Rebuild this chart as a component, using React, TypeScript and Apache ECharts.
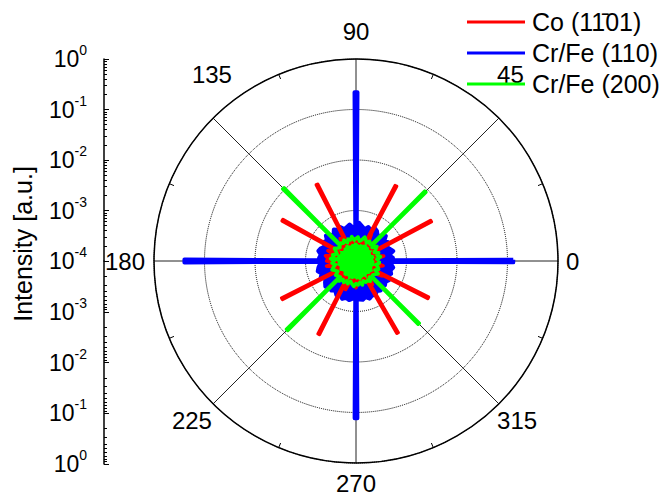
import React, { useEffect, useRef } from 'react';
import * as echarts from 'echarts';

const FONT = '"Liberation Sans", Arial, sans-serif';

const SERIES_NAMES = ['Co (11\u030401)', 'Cr/Fe (110)', 'Cr/Fe (200)'];
const ANGLE_TICKS = [0, 45, 90, 135, 180, 225, 270, 315];

// sampled angle grid (degrees)
const NOISE_ANGLES = [
  0, 5, 10, 15, 20, 25, 30, 35, 40, 45, 50, 55,
  60, 65, 70, 75, 80, 85, 90, 95, 100, 105, 110, 115,
  120, 125, 130, 135, 140, 145, 150, 155, 160, 165, 170, 175,
  180, 185, 190, 195, 200, 205, 210, 215, 220, 225, 230, 235,
  240, 245, 250, 255, 260, 265, 270, 275, 280, 285, 290, 295,
  300, 305, 310, 315, 320, 325, 330, 335, 340, 345, 350, 355,
];

// background intensity of each series on that grid
const CO_NOISE = [
  2.6e-4, 2.4e-4, 3.6e-4, 2.5e-4, 2.7e-4, 2.3e-4, 2.6e-4, 2.8e-4, 2.4e-4, 3.8e-4, 2.5e-4, 2.6e-4,
  4.0e-4, 2.5e-4, 2.4e-4, 2.7e-4, 2.3e-4, 2.6e-4, 2.5e-4, 2.8e-4, 2.4e-4, 2.6e-4, 2.3e-4, 2.7e-4,
  2.5e-4, 3.5e-4, 2.4e-4, 2.6e-4, 2.3e-4, 2.7e-4, 2.5e-4, 2.4e-4, 3.9e-4, 2.6e-4, 4.1e-4, 3.6e-4,
  3.8e-4, 2.5e-4, 3.9e-4, 2.6e-4, 2.4e-4, 2.7e-4, 2.5e-4, 2.6e-4, 2.3e-4, 3.5e-4, 2.5e-4, 2.7e-4,
  2.4e-4, 2.7e-4, 4.0e-4, 2.5e-4, 2.6e-4, 2.4e-4, 3.4e-4, 2.5e-4, 2.7e-4, 2.8e-4, 2.5e-4, 2.4e-4,
  2.6e-4, 3.7e-4, 2.4e-4, 2.7e-4, 2.5e-4, 2.6e-4, 3.9e-4, 2.5e-4, 2.4e-4, 2.7e-4, 3.5e-4, 2.5e-4,
];
const CRFE110_NOISE = [
  4.9e-4, 5.4e-4, 4.6e-4, 5.8e-4, 5.1e-4, 4.7e-4, 5.5e-4, 4.8e-4, 5.9e-4, 5.0e-4, 4.6e-4, 5.3e-4,
  5.6e-4, 4.8e-4, 5.2e-4, 4.5e-4, 5.0e-4, 5.7e-4, 4.9e-4, 4.6e-4, 5.4e-4, 5.0e-4, 4.7e-4, 5.5e-4,
  5.1e-4, 5.8e-4, 4.9e-4, 5.3e-4, 6.0e-4, 5.0e-4, 5.6e-4, 4.8e-4, 5.5e-4, 5.9e-4, 5.1e-4, 5.4e-4,
  5.8e-4, 5.2e-4, 5.7e-4, 6.1e-4, 5.3e-4, 5.9e-4, 5.0e-4, 5.6e-4, 6.2e-4, 5.4e-4, 5.8e-4, 5.2e-4,
  6.0e-4, 5.5e-4, 6.3e-4, 5.7e-4, 6.1e-4, 5.6e-4, 6.4e-4, 5.8e-4, 6.0e-4, 5.5e-4, 6.2e-4, 5.7e-4,
  5.9e-4, 5.3e-4, 5.8e-4, 5.0e-4, 5.6e-4, 5.2e-4, 5.7e-4, 4.9e-4, 5.5e-4, 5.1e-4, 5.6e-4, 5.0e-4,
];
const CRFE200_NOISE = [
  2.9e-4, 2.6e-4, 3.1e-4, 2.7e-4, 3.0e-4, 2.5e-4, 2.8e-4, 3.2e-4, 2.6e-4, 2.9e-4, 2.7e-4, 3.0e-4,
  2.6e-4, 2.9e-4, 3.2e-4, 2.7e-4, 2.5e-4, 3.0e-4, 2.8e-4, 2.6e-4, 3.1e-4, 2.7e-4, 2.9e-4, 2.5e-4,
  3.0e-4, 2.7e-4, 2.9e-4, 3.3e-4, 2.6e-4, 2.8e-4, 3.1e-4, 2.7e-4, 2.5e-4, 3.0e-4, 2.8e-4, 3.2e-4,
  2.7e-4, 3.0e-4, 2.6e-4, 2.9e-4, 3.2e-4, 2.8e-4, 2.6e-4, 3.1e-4, 2.9e-4, 2.7e-4, 3.3e-4, 2.8e-4,
  3.1e-4, 2.7e-4, 3.0e-4, 2.6e-4, 2.9e-4, 3.2e-4, 2.8e-4, 3.0e-4, 2.7e-4, 3.1e-4, 2.6e-4, 2.9e-4,
  2.8e-4, 3.1e-4, 2.6e-4, 3.0e-4, 2.7e-4, 2.9e-4, 3.2e-4, 2.6e-4, 3.0e-4, 2.8e-4, 2.5e-4, 2.9e-4,
];

// diffraction peaks: angle (deg) and peak intensity
const CO_SPIKE_ANGLES = [28, 62, 117, 151, 207, 243, 300, 333];
const CO_SPIKE_PEAKS = [4.8e-3, 4.8e-3, 5.0e-3, 4.6e-3, 4.4e-3, 4.2e-3, 4.4e-3, 4.0e-3];
const CO_SPIKE_BASE = 3.0e-4;

const CRFE110_SPIKE_ANGLES = [0, 90, 180, 270];
const CRFE110_SPIKE_PEAKS = [0.13, 0.22, 0.25, 0.13];
const CRFE110_SPIKE_BASE = 5.0e-4;

const CRFE200_SPIKE_ANGLES = [45, 135, 225, 315];
const CRFE200_SPIKE_PEAKS = [8.7e-3, 1.08e-2, 8.5e-3, 5.7e-3];
const CRFE200_SPIKE_BASE = 2.8e-4;

const BASE_HALF = 1.2;
const TIP_HALF = 0.5;

function buildSeries(noise: number[], spikeAngles: number[], spikePeaks: number[], base: number) {
  const pts: [number, number][] = [];
  NOISE_ANGLES.forEach((a, i) => {
    const near = spikeAngles.some((s) => Math.abs(((a - s + 540) % 360) - 180) < 2);
    if (!near) pts.push([noise[i], a]);
  });
  spikeAngles.forEach((s, i) => {
    const p = spikePeaks[i];
    const parts: [number, number][] = [
      [base, -BASE_HALF],
      [p, -TIP_HALF],
      [p, TIP_HALF],
      [base, BASE_HALF],
    ];
    parts.forEach(([v, d]) => pts.push([v, (s + d + 360) % 360]));
  });
  pts.sort((a, b) => a[1] - b[1]);
  pts.push([pts[0][0], pts[0][1]]);
  return pts;
}

const supLabel = (v: number) => {
  const e = Math.round(Math.log10(v));
  return `{b|10}{e|${e}}`;
};

const richLabel = {
  b: { fontSize: 23, fontFamily: FONT, color: '#000', lineHeight: 32 },
  e: { fontSize: 14, fontFamily: FONT, color: '#000', lineHeight: 14, verticalAlign: 'top' },
};

// per-label padding [top, right, bottom, left] for the angle labels
const ANGLE_LABEL_PAD: Record<number, number[]> = {
  0: [0, 0, 0, 36],
  45: [0, 0, 102, 18],
  90: [0, 0, 87, 0],
  135: [0, 1, 102, 0],
  180: [0, 37, 0, 0],
  225: [48, 21, 0, 0],
  270: [73, 0, 0, 0],
  315: [48, 0, 0, 18],
};
const angleRich: Record<string, any> = {};
ANGLE_TICKS.forEach((t) => {
  angleRich['a' + t] = {
    fontSize: 24,
    fontFamily: FONT,
    color: '#000',
    lineHeight: 24,
    padding: ANGLE_LABEL_PAD[t],
  };
});

export default function App() {
  const ref = useRef<HTMLDivElement>(null);
  useEffect(() => {
    document.body.style.margin = '0';
    if (!ref.current) return;
    const chart = echarts.init(ref.current, undefined, { renderer: 'svg' });
    const mkSeries = (name: string, color: string, data: [number, number][], width: number) => ({
      name,
      type: 'line',
      coordinateSystem: 'polar',
      data,
      symbol: 'none',
      showSymbol: false,
      silent: true,
      lineStyle: { color, width, join: 'round' },
      itemStyle: { color },
      areaStyle: { color, opacity: 1 },
    });
    const yAxisCommon = {
      type: 'log',
      logBase: 10,
      min: 1e-4,
      max: 1,
      axisLine: { show: true, lineStyle: { color: '#000', width: 1.5 } },
      axisTick: { show: true, inside: true, length: 5, lineStyle: { color: '#000', width: 1 } },
      minorTick: { show: true, splitNumber: 9, length: 3, lineStyle: { color: '#000', width: 1 } },
      splitLine: { show: false },
      axisLabel: { formatter: supLabel, rich: richLabel, margin: 17 },
    };
    chart.setOption({
      animation: false,
      backgroundColor: '#fff',
      legend: {
        data: SERIES_NAMES,
        orient: 'vertical',
        left: 467,
        top: 9,
        padding: 0,
        icon: 'rect',
        itemWidth: 58,
        itemHeight: 3,
        itemGap: 5,
        textStyle: { fontSize: 25, fontFamily: FONT, color: '#000', lineHeight: 26, padding: [0, 0, 0, 2] },
        selectedMode: false,
      },
      grid: [
        { left: 104, top: 59, width: 1, height: 202 },
        { left: 104, top: 261, width: 1, height: 203 },
      ],
      xAxis: [
        { type: 'value', gridIndex: 0, show: false },
        { type: 'value', gridIndex: 1, show: false },
      ],
      yAxis: [
        { ...yAxisCommon, gridIndex: 0 },
        { ...yAxisCommon, gridIndex: 1, inverse: true, axisLabel: { ...yAxisCommon.axisLabel, showMinLabel: false } },
      ],
      polar: { center: [356, 261], radius: 202 },
      angleAxis: {
        type: 'value',
        min: 0,
        max: 360,
        interval: 45,
        startAngle: 0,
        clockwise: false,
        axisLine: { show: true, lineStyle: { color: '#000', width: 1.5 } },
        axisTick: { show: false, inside: true },
        minorTick: { show: true, splitNumber: 2, length: 5, lineStyle: { color: '#000', width: 1 } },
        splitLine: { show: true, lineStyle: { color: '#222', width: 1 } },
        axisLabel: {
          margin: -28,
          fontSize: 24,
          fontFamily: FONT,
          color: '#000',
          rich: angleRich,
          formatter: (v: number) => (ANGLE_TICKS.includes(v) ? `{a${v}|${v}}` : ''),
        },
      },
      radiusAxis: {
        type: 'log',
        logBase: 10,
        min: 1e-4,
        max: 1,
        axisLine: { show: false },
        axisTick: { show: false },
        axisLabel: { show: false },
        splitLine: { show: true, lineStyle: { color: '#000', width: 1, type: 'dotted' } },
      },
      graphic: [
        {
          type: 'text',
          x: 23,
          y: 244,
          rotation: Math.PI / 2,
          style: {
            text: 'Intensity [a.u.]',
            fontSize: 25,
            fontFamily: FONT,
            fill: '#000',
            align: 'center',
            verticalAlign: 'middle',
          },
        },
      ],
      series: [
        mkSeries(SERIES_NAMES[1], '#0000ff', buildSeries(CRFE110_NOISE, CRFE110_SPIKE_ANGLES, CRFE110_SPIKE_PEAKS, CRFE110_SPIKE_BASE), 4),
        mkSeries(SERIES_NAMES[0], '#ff0000', buildSeries(CO_NOISE, CO_SPIKE_ANGLES, CO_SPIKE_PEAKS, CO_SPIKE_BASE), 3.5),
        mkSeries(SERIES_NAMES[2], '#00ff00', buildSeries(CRFE200_NOISE, CRFE200_SPIKE_ANGLES, CRFE200_SPIKE_PEAKS, CRFE200_SPIKE_BASE), 3.5),
      ],
    });
    return () => chart.dispose();
  }, []);
  return <div ref={ref} style={{ width: 664, height: 494 }} />;
}
